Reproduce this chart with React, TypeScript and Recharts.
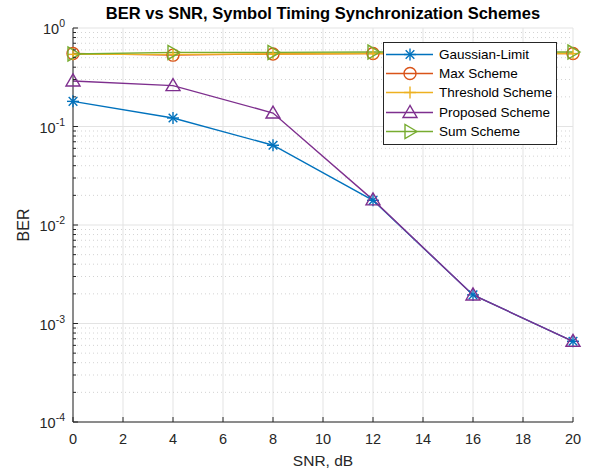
import React from 'react';
import {
  LineChart, Line, XAxis, YAxis, CartesianGrid, ReferenceLine, Legend,
} from 'recharts';

const snr = [0, 4, 8, 12, 16, 20];
const gaussianLimit = [0.18, 0.122, 0.0645, 0.0178, 0.00195, 0.00066];
const maxScheme = [0.55, 0.53, 0.545, 0.55, 0.55, 0.55];
const thresholdScheme = [0.54, 0.54, 0.545, 0.55, 0.55, 0.55];
const proposedScheme = [0.29, 0.26, 0.137, 0.018, 0.00195, 0.00066];
const sumScheme = [0.545, 0.565, 0.565, 0.57, 0.57, 0.57];

const xTicks = [0, 2, 4, 6, 8, 10, 12, 14, 16, 18, 20];
const yMajor = [1e-4, 1e-3, 1e-2, 1e-1, 1];
const minorSteps = [2, 3, 4, 5, 6, 7, 8, 9];
const yMinor = yMajor.slice(0, -1).flatMap((d) => minorSteps.map((m) => d * m));
const yTicks = [...yMajor, ...yMinor].sort((a, b) => a - b);

const data = snr.map((s, i) => ({
  snr: s,
  gaussian: gaussianLimit[i],
  max: maxScheme[i],
  threshold: thresholdScheme[i],
  proposed: proposedScheme[i],
  sum: sumScheme[i],
}));

type Shape = 'star' | 'circle' | 'plus' | 'up' | 'right';

const SERIES: { key: string; name: string; color: string; shape: Shape }[] = [
  { key: 'gaussian', name: 'Gaussian-Limit', color: '#0072BD', shape: 'star' },
  { key: 'max', name: 'Max Scheme', color: '#D95319', shape: 'circle' },
  { key: 'threshold', name: 'Threshold Scheme', color: '#EDB120', shape: 'plus' },
  { key: 'proposed', name: 'Proposed Scheme', color: '#7E2F8E', shape: 'up' },
  { key: 'sum', name: 'Sum Scheme', color: '#77AC30', shape: 'right' },
];

const FONT = '"Liberation Sans", Arial, Helvetica, sans-serif';
const INK = '#262626';

function Marker({ shape, cx, cy, color }: { shape: Shape; cx: number; cy: number; color: string }) {
  const s = { stroke: color, strokeWidth: 1.4, fill: 'none' };
  const r = 6;
  switch (shape) {
    case 'star': {
      const d = r * 0.72;
      return (
        <g {...s}>
          <line x1={cx - r} y1={cy} x2={cx + r} y2={cy} />
          <line x1={cx} y1={cy - r} x2={cx} y2={cy + r} />
          <line x1={cx - d} y1={cy - d} x2={cx + d} y2={cy + d} />
          <line x1={cx - d} y1={cy + d} x2={cx + d} y2={cy - d} />
        </g>
      );
    }
    case 'circle':
      return <circle cx={cx} cy={cy} r={r} {...s} />;
    case 'plus':
      return (
        <g {...s}>
          <line x1={cx - r} y1={cy} x2={cx + r} y2={cy} />
          <line x1={cx} y1={cy - r} x2={cx} y2={cy + r} />
        </g>
      );
    case 'up':
      return <polygon points={`${cx},${cy - 7} ${cx - 7},${cy + 5} ${cx + 7},${cy + 5}`} {...s} />;
    case 'right':
      return <polygon points={`${cx + 7},${cy} ${cx - 5},${cy - 7} ${cx - 5},${cy + 7}`} {...s} />;
  }
  return null;
}

const dotFor = (shape: Shape, color: string) => (p: any) => (
  <Marker key={`${shape}-${p.index}`} shape={shape} cx={p.cx} cy={p.cy} color={color} />
);

const isMajor = (v: number) => Math.abs(Math.log10(v) - Math.round(Math.log10(v))) < 1e-6;

const LeftTick = (p: any) => {
  const v = p.payload.value;
  const major = isMajor(v);
  return (
    <g>
      <line x1={p.x} x2={p.x + (major ? 5 : 3)} y1={p.y} y2={p.y} stroke={INK} />
      {major && (
        <text x={p.x - 8} y={p.y + 6} textAnchor="end" fontSize={14.5} fill={INK} fontFamily={FONT}>
          10<tspan dy={-7} fontSize={10.5}>{Math.round(Math.log10(v))}</tspan>
        </text>
      )}
    </g>
  );
};

const RightTick = (p: any) => {
  const major = isMajor(p.payload.value);
  return <line x1={p.x} x2={p.x - (major ? 5 : 3)} y1={p.y} y2={p.y} stroke={INK} />;
};

const BottomTick = (p: any) => (
  <g>
    <line x1={p.x} x2={p.x} y1={p.y} y2={p.y - 5} stroke={INK} />
    <text x={p.x} y={p.y + 22} textAnchor="middle" fontSize={14.5} fill={INK} fontFamily={FONT}>
      {p.payload.value}
    </text>
  </g>
);

const TopTick = (p: any) => <line x1={p.x} x2={p.x} y1={p.y} y2={p.y + 5} stroke={INK} />;

const LegendBox = () => (
  <div style={{ background: '#fff', border: `1px solid ${INK}`, padding: '2px 0 3px', width: 172, fontFamily: FONT, fontSize: 13.5, color: '#000' }}>
    {SERIES.map((s) => (
      <div key={s.key} style={{ display: 'flex', alignItems: 'center', height: 19.2 }}>
        <svg width={54} height={19} style={{ flex: 'none' }}>
          <line x1={2} x2={49} y1={9.5} y2={9.5} stroke={s.color} strokeWidth={1.4} />
          <Marker shape={s.shape} cx={26} cy={9.5} color={s.color} />
        </svg>
        <span style={{ marginLeft: 1, whiteSpace: 'nowrap' }}>{s.name}</span>
      </div>
    ))}
  </div>
);

export default function App() {
  return (
    <div style={{ position: 'absolute', left: 0, top: 0, width: 590, height: 472, background: '#fff' }}>
      <div
        style={{
          position: 'absolute', left: 73, top: 3, width: 500, textAlign: 'center', zIndex: 2,
          fontFamily: FONT, fontSize: 16.5, fontWeight: 'bold', color: '#000', lineHeight: '20px',
          whiteSpace: 'nowrap',
        }}
      >
        BER vs SNR, Symbol Timing Synchronization Schemes
      </div>
      <LineChart width={590} height={472} data={data} margin={{ top: 28, right: 17, bottom: 20, left: 13 }}>
        <CartesianGrid horizontal={false} stroke="#e3e3e3" strokeWidth={1} />
        {yMinor.map((v) => (
          <ReferenceLine key={`mn-${v}`} y={v} stroke="#c8c8c8" strokeDasharray="1 3" strokeWidth={0.8} />
        ))}
        {yMajor.map((v) => (
          <ReferenceLine key={`mj-${v}`} y={v} stroke="#e3e3e3" strokeWidth={1} />
        ))}
        <XAxis
          dataKey="snr" type="number" domain={[0, 20]} ticks={xTicks} interval={0}
          height={30} tickSize={0} tickMargin={0} tick={BottomTick} axisLine={{ stroke: INK }}
          label={{
            content: (props: any) => {
              const vb = props.viewBox;
              return (
                <text x={vb.x + vb.width / 2} y={466} textAnchor="middle" fontSize={15.5} fill={INK} fontFamily={FONT}>
                  SNR, dB
                </text>
              );
            },
          }}
        />
        <XAxis
          xAxisId="top" orientation="top" type="number" domain={[0, 20]} ticks={xTicks} interval={0}
          height={0} tickSize={0} tickMargin={0} tick={TopTick} axisLine={{ stroke: INK }}
        />
        <YAxis
          scale="log" domain={[1e-4, 1]} ticks={yTicks} interval={0} allowDataOverflow
          width={60} tickSize={0} tickMargin={0} tick={LeftTick} axisLine={{ stroke: INK }}
          label={{
            content: (props: any) => {
              const vb = props.viewBox;
              const cx = vb.x + 16;
              const cy = vb.y + vb.height / 2;
              return (
                <text x={cx} y={cy} transform={`rotate(-90 ${cx} ${cy})`} textAnchor="middle" fontSize={16} fill={INK} fontFamily={FONT}>
                  BER
                </text>
              );
            },
          }}
        />
        <YAxis
          yAxisId="right" orientation="right" scale="log" domain={[1e-4, 1]} ticks={yTicks} interval={0}
          allowDataOverflow width={0} tickSize={0} tickMargin={0} tick={RightTick} axisLine={{ stroke: INK }}
        />
        {SERIES.map((s) => (
          <Line
            key={s.key} type="linear" dataKey={s.key} name={s.name} stroke={s.color} strokeWidth={1.4}
            dot={dotFor(s.shape, s.color)} activeDot={false} isAnimationActive={false}
          />
        ))}
        <Legend
          layout="vertical" align="center" verticalAlign="middle" content={LegendBox}
          wrapperStyle={{ left: 383, top: 42, width: 174 }}
        />
      </LineChart>
    </div>
  );
}
